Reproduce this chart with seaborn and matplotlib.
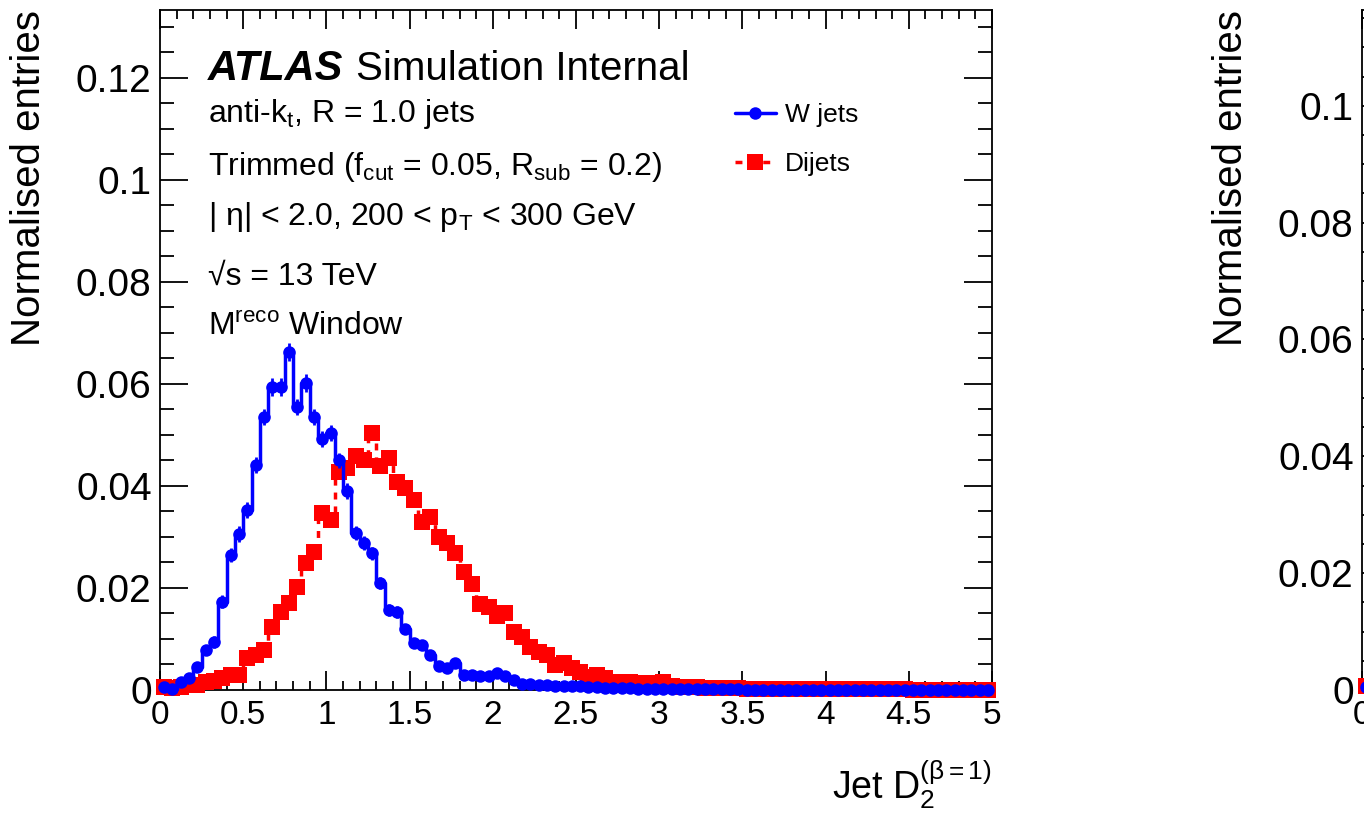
import numpy as np
import pandas as pd
import matplotlib
matplotlib.use("Agg")
import matplotlib.pyplot as plt
import seaborn as sns
from matplotlib.ticker import MultipleLocator, FuncFormatter

# histogram binning: 100 bins from 0 to 5
x_lo, x_hi, n_bins = 0.0, 5.0, 100

# W jets (signal), normalised entries per bin
w_jets = [
    0.0005, 0.0002, 0.0015, 0.0023, 0.0045, 0.0078, 0.0094, 0.0173, 0.0265, 0.0306,
    0.0353, 0.0441, 0.0535, 0.0594, 0.0594, 0.0663, 0.0555, 0.0602, 0.0535, 0.0492,
    0.0504, 0.0450, 0.0390, 0.0308, 0.0288, 0.0268, 0.0210, 0.0157, 0.0153, 0.0120,
    0.0092, 0.0088, 0.0069, 0.0047, 0.0043, 0.0052, 0.0029, 0.0029, 0.0027, 0.0027,
    0.0033, 0.0028, 0.0020, 0.0012, 0.0012, 0.0010, 0.0009, 0.0008, 0.0008, 0.0007,
    0.0007, 0.0006, 0.0005, 0.0004, 0.0004, 0.0003, 0.0003, 0.0002, 0.0002, 0.0002,
    0.0001, 0.0001, 0.0001, 0.0001, 0.0001, 0.0001, 0.0001, 0.0001, 0.0001, 0.0001,
    0.0, 0.0, 0.0, 0.0, 0.0, 0.0, 0.0, 0.0, 0.0, 0.0,
    0.0, 0.0, 0.0, 0.0, 0.0, 0.0, 0.0, 0.0, 0.0, 0.0,
    0.0, 0.0, 0.0, 0.0, 0.0, 0.0, 0.0, 0.0, 0.0, 0.0,
]
w_err = [
    0.0004, 0.0003, 0.0005, 0.0006, 0.0008, 0.0010, 0.0011, 0.0013, 0.0014, 0.0015,
    0.0015, 0.0016, 0.0016, 0.0017, 0.0017, 0.0018, 0.0016, 0.0017, 0.0016, 0.0016,
    0.0016, 0.0015, 0.0015, 0.0014, 0.0013, 0.0013, 0.0012, 0.0011, 0.0011, 0.0010,
    0.0009, 0.0009, 0.0008, 0.0007, 0.0007, 0.0007, 0.0006, 0.0006, 0.0006, 0.0006,
    0.0006, 0.0006, 0.0005, 0.0004, 0.0004, 0.0004, 0.0004, 0.0003, 0.0003, 0.0003,
    0.0003, 0.0003, 0.0003, 0.0002, 0.0002, 0.0002, 0.0002, 0.0002, 0.0002, 0.0002,
    0.0001, 0.0001, 0.0001, 0.0001, 0.0001, 0.0001, 0.0001, 0.0001, 0.0001, 0.0001,
    0.0, 0.0, 0.0, 0.0, 0.0, 0.0, 0.0, 0.0, 0.0, 0.0,
    0.0, 0.0, 0.0, 0.0, 0.0, 0.0, 0.0, 0.0, 0.0, 0.0,
    0.0, 0.0, 0.0, 0.0, 0.0, 0.0, 0.0, 0.0, 0.0, 0.0,
]

# Dijets (background)
dijets = [
    0.0006, 0.0003, 0.0005, 0.0009, 0.0010, 0.0015, 0.0018, 0.0023, 0.0030, 0.0030,
    0.0063, 0.0068, 0.0078, 0.0123, 0.0153, 0.0170, 0.0202, 0.0249, 0.0271, 0.0347,
    0.0333, 0.0427, 0.0435, 0.0458, 0.0450, 0.0504, 0.0440, 0.0455, 0.0408, 0.0396,
    0.0372, 0.0329, 0.0340, 0.0299, 0.0288, 0.0268, 0.0231, 0.0208, 0.0168, 0.0163,
    0.0145, 0.0150, 0.0113, 0.0104, 0.0084, 0.0075, 0.0069, 0.0049, 0.0053, 0.0043,
    0.0035, 0.0026, 0.0029, 0.0024, 0.0016, 0.0016, 0.0016, 0.0014, 0.0014, 0.0012,
    0.0016, 0.0007, 0.0006, 0.0005, 0.0005, 0.0004, 0.0004, 0.0003, 0.0003, 0.0003,
    0.0002, 0.0002, 0.0002, 0.0002, 0.0002, 0.0002, 0.0002, 0.0002, 0.0001, 0.0001,
    0.0001, 0.0001, 0.0001, 0.0001, 0.0001, 0.0001, 0.0001, 0.0001, 0.0001, 0.0001,
    0.0, 0.0, 0.0, 0.0, 0.0, 0.0, 0.0, 0.0, 0.0, 0.0,
]

info_lines = [
    r"anti-k$_{t}$, R = 1.0 jets",
    r"Trimmed (f$_{cut}$ = 0.05, R$_{sub}$ = 0.2)",
    r"| η| < 2.0, 200 < p$_{T}$ < 300 GeV",
    r"√s = 13 TeV",
    r"M$^{reco}$ Window",
]

sns.set_style("ticks", {'text.color': 'black', 'axes.labelcolor': 'black',
                        'xtick.color': 'black', 'ytick.color': 'black',
                        'axes.edgecolor': 'black'})
plt.rcParams['font.family'] = ['Liberation Sans', 'DejaVu Sans']
plt.rcParams['mathtext.fontset'] = 'custom'
plt.rcParams['mathtext.rm'] = 'Liberation Sans'
plt.rcParams['mathtext.it'] = 'Liberation Sans:italic'
plt.rcParams['mathtext.default'] = 'regular'
plt.rcParams['axes.linewidth'] = 1.3

width = (x_hi - x_lo) / n_bins
centers = np.arange(n_bins) * width + x_lo + width / 2
df = pd.DataFrame({'x': centers, 'W jets': w_jets, 'Dijets': dijets})

fig = plt.figure(figsize=(13.64, 8.23), dpi=100)


def draw_panel(ax, ymax, with_legend):
    sns.lineplot(data=df, x='x', y='Dijets', ax=ax, color='red', linewidth=2.5,
                 linestyle=(0, (2, 2)), marker='s', markersize=12, markeredgewidth=0,
                 drawstyle='steps-mid', label='Dijets', clip_on=False, zorder=3)
    ax.errorbar(centers, w_jets, yerr=w_err, fmt='none', ecolor='blue',
                elinewidth=2, zorder=4)
    sns.lineplot(data=df, x='x', y='W jets', ax=ax, color='blue', linewidth=2.5,
                 marker='o', markersize=9, markeredgewidth=0,
                 drawstyle='steps-mid', label='W jets', clip_on=False, zorder=5)
    ax.set_xlim(x_lo, x_hi)
    ax.set_ylim(0, ymax)
    ax.xaxis.set_major_locator(MultipleLocator(0.5))
    ax.xaxis.set_minor_locator(MultipleLocator(0.1))
    ax.yaxis.set_major_locator(MultipleLocator(0.02))
    ax.yaxis.set_minor_locator(MultipleLocator(0.005))
    fmt = FuncFormatter(lambda v, p: "%g" % round(v, 4))
    ax.xaxis.set_major_formatter(fmt)
    ax.yaxis.set_major_formatter(fmt)
    ax.tick_params(axis='both', which='both', direction='in', top=True, right=True,
                   width=1.3)
    ax.tick_params(axis='x', which='major', length=13.5, pad=7, labelsize=24)
    ax.tick_params(axis='x', which='minor', length=6.5)
    ax.tick_params(axis='y', which='major', length=20, pad=6, labelsize=28)
    ax.tick_params(axis='y', which='minor', length=10)
    ax.set_ylabel("Normalised entries", fontsize=29, loc='top')
    ax.yaxis.set_label_coords(-0.135, 1.0)
    if with_legend:
        h, l = ax.get_legend_handles_labels()
        ax.legend([h[1], h[0]], [l[1], l[0]], loc='upper left',
                  bbox_to_anchor=(0.691, 0.863), frameon=False, fontsize=19,
                  handlelength=1.55, handletextpad=0.35, labelspacing=0.95,
                  borderpad=0, borderaxespad=0, numpoints=1)
    else:
        leg = ax.get_legend()
        if leg is not None:
            leg.remove()


ax = fig.add_axes([160 / 1364, 133 / 823, 832 / 1364, 680 / 823])
draw_panel(ax, 0.1333, True)
ax.set_xlabel(r"Jet D$_{2}^{(β=1)}$", fontsize=27, loc='right')
ax.xaxis.set_label_coords(1.0, -0.1)

ax.text(0.058, 0.897, "ATLAS", transform=ax.transAxes, fontsize=30,
        fontweight='bold', fontstyle='italic', va='baseline')
ax.text(0.2355, 0.897, "Simulation Internal", transform=ax.transAxes,
        fontsize=29, va='baseline')
ys = [0.835, 0.757, 0.684, 0.596, 0.522]
for txt, yy in zip(info_lines, ys):
    ax.text(0.058, yy, txt, transform=ax.transAxes, fontsize=23, va='baseline')

# second panel, mostly outside the canvas
ax2 = fig.add_axes([1362 / 1364, 133 / 823, 832 / 1364, 680 / 823])
draw_panel(ax2, 0.1164, False)
ax2.set_xlabel("")

fig.savefig("out.png", dpi=100)
